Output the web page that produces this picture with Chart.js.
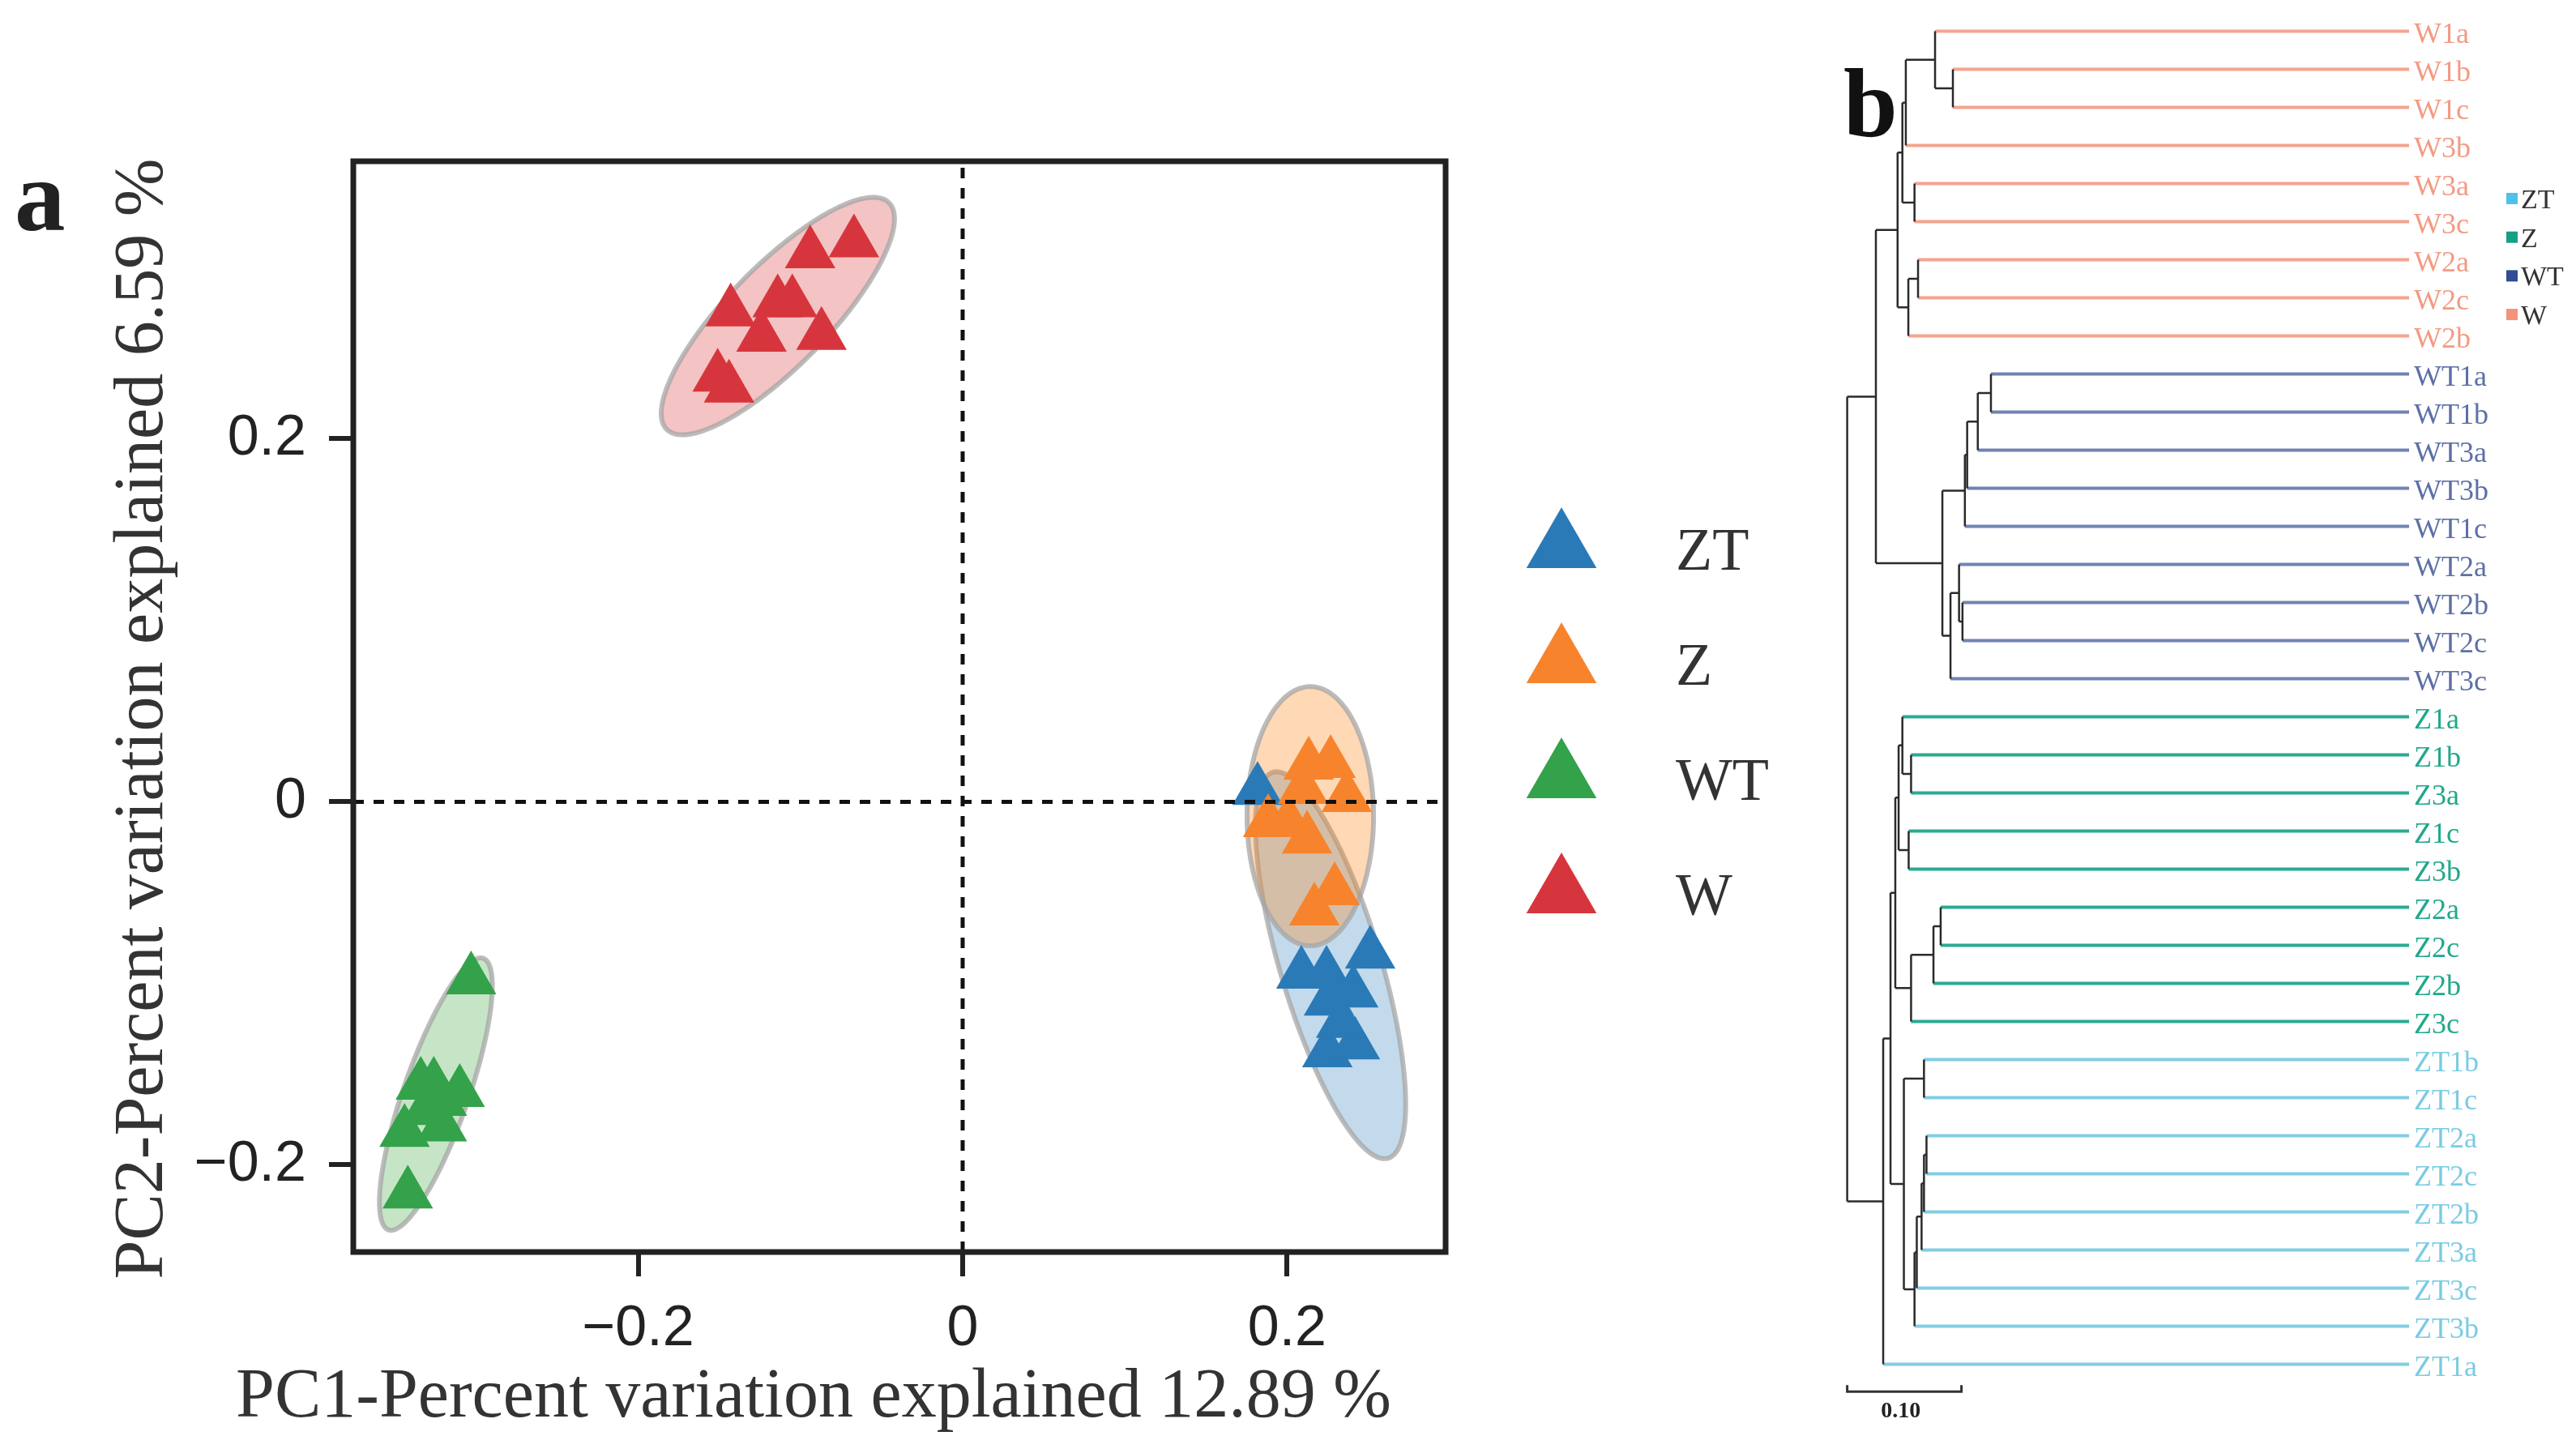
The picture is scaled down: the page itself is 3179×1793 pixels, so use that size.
<!DOCTYPE html>
<html><head><meta charset="utf-8">
<script src="https://cdn.jsdelivr.net/npm/chart.js@4.4.1/dist/chart.umd.min.js"></script>
<style>
html,body{margin:0;padding:0;background:#fff;}
#wrap{position:relative;width:3179px;height:1793px;overflow:hidden;background:#fff;}
canvas{position:absolute;top:0;}
#ca{left:0;}
#cb{left:2250px;}
</style></head><body>
<div id="wrap"><canvas id="ca" width="2250" height="1793"></canvas><canvas id="cb" width="929" height="1793"></canvas></div>
<script>
// ---------------- Panel a data (PCA) ----------------
const groups = ['ZT', 'Z', 'WT', 'W'];
const ztX = [0.2512, 0.2088, 0.2243, 0.2408, 0.2258, 0.2248, 0.2418, 0.1818, 0.2333];
const ztY = [-0.0838, -0.0949, -0.0949, -0.1052, -0.1097, -0.1382, -0.1338, 0.0064, -0.1220];
const zX  = [0.2133, 0.2268, 0.2368, 0.2098, 0.1883, 0.2123, 0.2008, 0.2293, 0.2168];
const zY  = [0.0203, 0.0212, 0.0024, 0.0069, -0.0114, -0.0204, -0.0114, -0.0489, -0.0600];
const wtX = [-0.303, -0.326, -0.334, -0.310, -0.344, -0.321, -0.342, -0.331, -0.321];
const wtY = [-0.098, -0.156, -0.156, -0.160, -0.182, -0.179, -0.216, -0.170, -0.165];
const wX  = [-0.094, -0.067, -0.143, -0.114, -0.105, -0.124, -0.087, -0.151, -0.144];
const wY  = [0.302, 0.308, 0.270, 0.275, 0.275, 0.256, 0.257, 0.234, 0.228];
const groupX = [ztX, zX, wtX, wX];
const groupY = [ztY, zY, wtY, wY];
// confidence ellipses: centre and two conjugate semi-axis vectors, data units
const ellCx = [0.2268, 0.2143, -0.3247, -0.1139];
const ellCy = [-0.090, -0.0079, -0.161, 0.2676];
const ellAx = [0.0355, 0.0, 0.0292, 0.0684];
const ellAy = [-0.1063, 0.0714, 0.0748, 0.0625];
const ellBx = [0.0297, 0.039, 0.0189, -0.0221];
const ellBy = [0.0079, 0.0, -0.0059, 0.0193];
const xTicks = [-0.2, 0, 0.2];
const yTicks = [-0.2, 0, 0.2];
const xTitle = 'PC1-Percent variation explained 12.89 %';
const yTitle = 'PC2-Percent variation explained 6.59 %';

// ---------------- Panel b data (dendrogram) ----------------
const leafNames = ['W1a','W1b','W1c','W3b','W3a','W3c','W2a','W2c','W2b',
  'WT1a','WT1b','WT3a','WT3b','WT1c','WT2a','WT2b','WT2c','WT3c',
  'Z1a','Z1b','Z3a','Z1c','Z3b','Z2a','Z2c','Z2b','Z3c',
  'ZT1b','ZT1c','ZT2a','ZT2c','ZT2b','ZT3a','ZT3c','ZT3b','ZT1a'];
const mergeA = ['W1b','W1a','n1','W3a','n2','W2a','n5','n4','WT1a','n8','n9','n10','WT2b','WT2a','n13','n11','n7',
  'Z1b','Z1a','Z1c','n18','Z2a','n21','n22','n20','ZT1b','ZT2a','n26','n27','n28','n29','n25','n24','n32','n16'];
const mergeB = ['W1c','n0','W3b','W3c','n3','W2c','W2b','n6','WT1b','WT3a','WT3b','WT1c','WT2c','n12','WT3c','n14','n15',
  'Z3a','n17','Z3b','n19','Z2c','Z2b','Z3c','n23','ZT1c','ZT2c','ZT2b','ZT3a','ZT3c','ZT3b','n30','n31','ZT1a','n33'];
const mergeHeight = [0.0925,0.0769,0.0513,0.0589,0.0483,0.0620,0.0535,0.0441,0.1258,0.1143,0.1050,0.1030,0.1009,0.0979,0.0904,0.0833,0.0251,
  0.0559,0.0483,0.0538,0.0450,0.0818,0.0755,0.0559,0.0421,0.0672,0.0694,0.0672,0.0651,0.0609,0.0589,0.0496,0.0379,0.0315,0.0];
const tipDistance = 0.4918;
const scaleBarLength = 0.10;
const scaleBarLabel = '0.10';
const treeLegend = ['ZT', 'Z', 'WT', 'W'];

// ---------------- styles ----------------
const pointColors = ['#2a7ab8', '#f7842c', '#33a24a', '#d7353d'];
const ellFill = ['rgba(31,119,180,0.27)', 'rgba(255,127,14,0.30)', 'rgba(44,160,44,0.27)', 'rgba(214,39,40,0.28)'];
const leafLineColor = {W:'#f4a48f', WT:'#7183b3', Z:'#2aab92', ZT:'#82cde2'};
const leafTextColor = {W:'#f29b84', WT:'#5d70a6', Z:'#20a88b', ZT:'#7accE3'};
const treeLegendColor = {ZT:'#4fc1e8', Z:'#13a085', WT:'#2f4c94', W:'#f4937a'};

Chart.defaults.font.family = 'Liberation Sans';

const xMin = -0.3756, xMax = 0.2977, yMin = -0.248, yMax = 0.3529;
const fmt = v => v === 0 ? '0' : (v < 0 ? '\u2212' : '') + Math.abs(v).toFixed(1);

const panelAPlugin = {
  id: 'panelA',
  beforeDatasetsDraw(chart) {
    const ctx = chart.ctx, xs = chart.scales.x, ys = chart.scales.y;
    ctx.save();
    for (let e = 0; e < ellCx.length; e++) {
      ctx.beginPath();
      const N = 180;
      for (let k = 0; k <= N; k++) {
        const t = 2 * Math.PI * k / N;
        const dx = ellCx[e] + ellAx[e] * Math.cos(t) + ellBx[e] * Math.sin(t);
        const dy = ellCy[e] + ellAy[e] * Math.cos(t) + ellBy[e] * Math.sin(t);
        const px = xs.getPixelForValue(dx), py = ys.getPixelForValue(dy);
        if (k === 0) ctx.moveTo(px, py); else ctx.lineTo(px, py);
      }
      ctx.closePath();
      ctx.fillStyle = ellFill[e];
      ctx.fill();
      ctx.lineWidth = 6;
      ctx.strokeStyle = 'rgba(165,165,165,0.75)';
      ctx.stroke();
    }
    ctx.restore();
  },
  afterDraw(chart) {
    const ctx = chart.ctx, a = chart.chartArea;
    ctx.save();
    // frame
    ctx.strokeStyle = '#222';
    ctx.lineWidth = 7;
    ctx.strokeRect(a.left, a.top, a.right - a.left, a.bottom - a.top);
    // legend
    groups.forEach((g, i) => {
      ctx.fillStyle = pointColors[i];
      Chart.helpers.drawPoint(ctx, {pointStyle: 'triangle', radius: 50, rotation: 0, borderWidth: 0}, 1927, 676 + 142 * i);
      ctx.fillStyle = '#333';
      ctx.font = '74px "Liberation Serif"';
      ctx.textAlign = 'left';
      ctx.textBaseline = 'alphabetic';
      ctx.fillText(g, 2068, 703 + 142 * i);
    });
    // axis titles
    ctx.fillStyle = '#333';
    ctx.font = '86px "Liberation Serif"';
    ctx.textAlign = 'center';
    ctx.textBaseline = 'alphabetic';
    ctx.fillText(xTitle, 1004, 1748);
    ctx.save();
    ctx.translate(200, 887);
    ctx.rotate(-Math.PI / 2);
    ctx.fillText(yTitle, 0, 0);
    ctx.restore();
    // panel letter
    ctx.fillStyle = '#222';
    ctx.font = 'bold 125px "Liberation Serif"';
    ctx.textAlign = 'left';
    ctx.fillText('a', 18, 284);
    ctx.restore();
  }
};

const datasetsA = groups.map((g, i) => ({
  label: g,
  data: groupX[i].map((x, j) => ({x: x, y: groupY[i][j]})),
  backgroundColor: pointColors[i],
  borderWidth: 0,
  pointStyle: 'triangle',
  pointRadius: 36,
  pointHoverRadius: 36,
  order: 4 - i
}));
datasetsA.push({label: 'x0', data: [{x: 0, y: yMin}, {x: 0, y: yMax}], showLine: true, borderColor: '#111', borderWidth: 5, borderDash: [13, 12], pointRadius: 0, order: 0});
datasetsA.push({label: 'y0', data: [{x: xMin, y: 0}, {x: xMax, y: 0}], showLine: true, borderColor: '#111', borderWidth: 5, borderDash: [13, 12], pointRadius: 0, order: 0});

new Chart(document.getElementById('ca'), {
  type: 'scatter',
  data: {datasets: datasetsA},
  options: {
    responsive: false, animation: false, devicePixelRatio: 1,
    layout: {padding: {left: 0, top: 199, right: 466, bottom: 0}},
    plugins: {legend: {display: false}, tooltip: {enabled: false}},
    scales: {
      x: {
        type: 'linear', min: xMin, max: xMax,
        afterFit(s) { s.height = 248; s.paddingLeft = 0; s.paddingRight = 0; },
        afterBuildTicks(s) { s.ticks = xTicks.map(v => ({value: v})); },
        grid: {drawOnChartArea: false, drawTicks: true, tickLength: 30, lineWidth: 6, color: '#222'},
        border: {display: false},
        ticks: {font: {size: 70}, color: '#222', padding: 24, maxRotation: 0, autoSkip: false, callback: fmt}
      },
      y: {
        type: 'linear', min: yMin, max: yMax,
        afterFit(s) { s.width = 436; s.paddingTop = 0; s.paddingBottom = 0; },
        afterBuildTicks(s) { s.ticks = yTicks.map(v => ({value: v})); },
        grid: {drawOnChartArea: false, drawTicks: true, tickLength: 30, lineWidth: 6, color: '#222'},
        border: {display: false},
        ticks: {font: {size: 70}, color: '#222', padding: 28, autoSkip: false, callback: fmt}
      }
    }
  },
  plugins: [panelAPlugin]
});

// ---------------- build dendrogram segments ----------------
const groupOf = n => n.startsWith('ZT') ? 'ZT' : n.startsWith('WT') ? 'WT' : n.startsWith('Z') ? 'Z' : 'W';
const nodeY = {}, nodeH = {};
leafNames.forEach((n, i) => { nodeY[n] = i; nodeH[n] = null; });
const branchPts = [];
const leafPts = {W: [], WT: [], Z: [], ZT: []};
mergeA.forEach((a, k) => {
  const b = mergeB[k], h = mergeHeight[k], id = 'n' + k;
  nodeY[id] = (nodeY[a] + nodeY[b]) / 2;
  nodeH[id] = h;
  branchPts.push({x: h, y: nodeY[a]}, {x: h, y: nodeY[b]}, {x: h, y: null});
  [a, b].forEach(c => {
    if (nodeH[c] === null) {
      leafPts[groupOf(c)].push({x: h, y: nodeY[c]}, {x: tipDistance, y: nodeY[c]}, {x: h, y: null});
    } else {
      branchPts.push({x: h, y: nodeY[c]}, {x: nodeH[c], y: nodeY[c]}, {x: h, y: null});
    }
  });
});
const scaleBarY = 35.72;
const scaleBarPts = [{x: 0, y: scaleBarY - 0.17}, {x: 0, y: scaleBarY}, {x: scaleBarLength, y: scaleBarY}, {x: scaleBarLength, y: scaleBarY - 0.17}];

const datasetsB = ['W', 'WT', 'Z', 'ZT'].map(g => ({
  label: g, data: leafPts[g], borderColor: leafLineColor[g], borderWidth: 4,
  pointRadius: 0, fill: false, tension: 0, spanGaps: false, order: 2
}));
datasetsB.push({label: 'branches', data: branchPts, borderColor: '#2a2a2a', borderWidth: 2.5, pointRadius: 0, fill: false, tension: 0, spanGaps: false, order: 0});
datasetsB.push({label: 'scale', data: scaleBarPts, borderColor: '#333', borderWidth: 3, pointRadius: 0, fill: false, tension: 0, order: 0});

const panelBPlugin = {
  id: 'panelB',
  afterDraw(chart) {
    const ctx = chart.ctx;
    ctx.save();
    ctx.fillStyle = '#111';
    ctx.font = 'bold 120px "Liberation Serif"';
    ctx.textAlign = 'left';
    ctx.textBaseline = 'alphabetic';
    ctx.fillText('b', 25, 168);
    treeLegend.forEach((g, i) => {
      const cy = 245 + 47.7 * i;
      ctx.fillStyle = treeLegendColor[g];
      ctx.fillRect(843, cy - 7, 14, 14);
      ctx.fillStyle = '#333';
      ctx.font = '34px "Liberation Serif"';
      ctx.fillText(g, 861, cy + 12);
    });
    const xs = chart.scales.x, ys = chart.scales.y;
    ctx.font = 'bold 28px "Liberation Serif"';
    ctx.textAlign = 'center';
    ctx.fillStyle = '#222';
    ctx.fillText(scaleBarLabel, xs.getPixelForValue(scaleBarLength * 0.47), ys.getPixelForValue(scaleBarY) + 32);
    ctx.restore();
  }
};

new Chart(document.getElementById('cb'), {
  type: 'line',
  data: {datasets: datasetsB},
  options: {
    responsive: false, animation: false, devicePixelRatio: 1,
    layout: {padding: {left: 0, top: 5, right: 0, bottom: 40}},
    plugins: {legend: {display: false}, tooltip: {enabled: false}},
    scales: {
      x: {type: 'linear', min: -0.021, max: tipDistance, display: false},
      y: {
        type: 'linear', position: 'right', reverse: true, min: -0.7128, max: 36.479,
        afterFit(s) { s.width = 206; s.paddingTop = 0; s.paddingBottom = 0; },
        afterBuildTicks(s) { s.ticks = leafNames.map((n, i) => ({value: i})); },
        grid: {display: false, drawTicks: false},
        border: {display: false},
        ticks: {
          autoSkip: false, padding: 6, labelOffset: 5,
          font: {size: 36, family: 'Liberation Serif'},
          color: c => leafTextColor[groupOf(leafNames[c.tick ? c.tick.value : c.index] || 'W')],
          callback: v => leafNames[v]
        }
      }
    }
  },
  plugins: [panelBPlugin]
});
</script>
</body></html>
